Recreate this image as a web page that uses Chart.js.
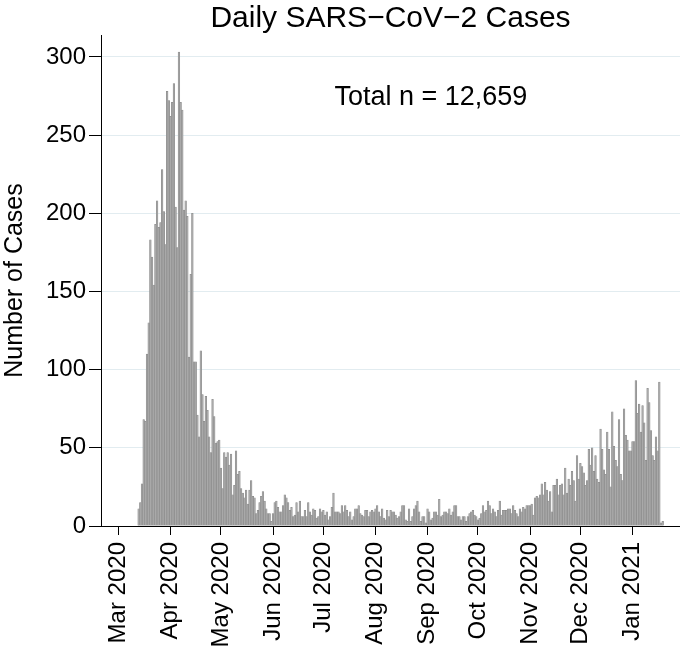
<!DOCTYPE html>
<html>
<head>
<meta charset="utf-8">
<title>Daily SARS-CoV-2 Cases</title>
<script src="https://cdn.jsdelivr.net/npm/chart.js@4.4.1/dist/chart.umd.min.js"></script>
<style>
  html, body { margin: 0; padding: 0; background: #fff; }
  #wrap { width: 680px; height: 651px; }
</style>
</head>
<body>
<div id="wrap"><canvas id="casesChart" width="680" height="651"></canvas></div>
<script>
// x values are days counted from 1 Mar 2020 (day 0)
const firstDay = 12; // 13 Mar 2020

// daily case counts, one per day from firstDay on
const dailyCases = [
  11, 15, 27, 68, 67, 110, 130, 183, 172, 154,   // 13-22 Mar
  193, 208, 191, 194, 228, 201, 180, 278, 272, 262,
  271, 283, 204, 178, 303, 271, 266, 202, 208, 198,
  108, 161, 200, 105, 105, 71, 57, 112, 84, 67,
  83, 74, 57, 47, 81, 70, 53, 54, 55, 37,         // -> 1 May
  24, 47, 44, 47, 39, 46, 20, 26, 48, 33,
  35, 24, 21, 18, 23, 14, 23, 29, 19, 18,
  8, 10, 15, 19, 22, 16, 11, 8, 8, 3,
  8, 15, 16, 12, 9, 9, 13, 20, 18, 15,            // from 1 Jun
  10, 12, 6, 7, 15, 9, 16, 6, 6, 10,
  6, 15, 9, 7, 11, 10, 5, 6, 11, 9,
  10, 7, 9, 4, 6, 12, 21, 9, 9, 9,                // from 1 Jul
  8, 13, 9, 13, 10, 6, 9, 4, 6, 11,
  11, 13, 8, 7, 6, 10, 10, 6, 9, 10,
  9, 11, 13, 9, 6, 11, 5, 4, 10, 6,
  10, 9, 9, 7, 5, 6, 9, 13, 13, 4,
  3, 11, 3, 6, 11, 13, 16, 9, 3, 6,
  6, 2, 11, 9, 4, 5, 9, 9, 7, 17,                 // from 31 Aug
  6, 7, 9, 9, 8, 11, 7, 9, 13, 13,
  6, 6, 4, 6, 6, 3, 6, 8, 9, 10,
  7, 6, 4, 5, 8, 13, 9, 10, 16, 13,               // from 30 Sep
  8, 11, 9, 6, 10, 16, 7, 10, 10, 10,
  11, 11, 8, 13, 10, 8, 6, 11, 9, 12,
  11, 13, 13, 13, 14, 7, 18, 19, 18, 20,          // from 30 Oct
  27, 20, 28, 23, 16, 22, 9, 26, 26, 30,
  20, 26, 27, 20, 37, 21, 30, 26, 35, 29,
  16, 45, 30, 40, 38, 34, 26, 29, 49, 39,         // from 29 Nov
  50, 35, 45, 30, 28, 62, 49, 36, 33, 60,
  49, 25, 73, 51, 42, 38, 68, 33, 29, 75,
  58, 55, 48, 48, 54, 54, 93, 72, 78, 60,         // from 29 Dec
  77, 66, 42, 88, 79, 61, 45, 42, 57, 48,
  92, 2, 3
];

// month starts, as days from 1 Mar 2020
const monthTicks = [0, 31, 61, 92, 122, 153, 184, 214, 245, 275, 306];
const monthLabels = ['Mar 2020', 'Apr 2020', 'May 2020', 'Jun 2020', 'Jul 2020', 'Aug 2020',
                     'Sep 2020', 'Oct 2020', 'Nov 2020', 'Dec 2020', 'Jan 2021'];
const yTicks = [0, 50, 100, 150, 200, 250, 300];

const FONT = '"Liberation Sans", Arial, Helvetica, sans-serif';
Chart.defaults.font.family = FONT;
Chart.defaults.color = '#000';

// title and "Total n" note
const textPlugin = {
  id: 'chartTexts',
  afterDraw(chart) {
    const { ctx, chartArea, scales } = chart;
    ctx.save();
    ctx.fillStyle = '#000';
    ctx.textAlign = 'center';
    ctx.textBaseline = 'alphabetic';
    ctx.font = '30px ' + FONT;
    ctx.fillText('Daily SARS\u2212CoV\u22122 Cases', (chartArea.left + chartArea.right) / 2, 27);
    ctx.font = '27px ' + FONT;
    ctx.textBaseline = 'middle';
    ctx.fillText('Total n = 12,659', scales.x.getPixelForValue(186), scales.y.getPixelForValue(274));
    ctx.restore();
  }
};

new Chart(document.getElementById('casesChart'), {
  type: 'bar',
  data: {
    datasets: [{
      data: dailyCases.map((v, i) => ({ x: firstDay + i, y: v })),
      backgroundColor: '#a9a9a9',
      borderColor: '#858585',
      borderWidth: 0.5,
      categoryPercentage: 1,
      barPercentage: 1
    }]
  },
  options: {
    responsive: false,
    animation: false,
    layout: { padding: { top: 35, right: 0, bottom: 0, left: 0 } },
    plugins: {
      legend: { display: false },
      tooltip: { enabled: false }
    },
    scales: {
      x: {
        type: 'linear',
        offset: false,
        min: -10.4,
        max: 334.3,
        afterBuildTicks: (s) => { s.ticks = monthTicks.map(v => ({ value: v })); },
        afterFit: (s) => { s.height = 125; },
        border: { display: true, color: '#000', width: 1 },
        grid: { offset: false, drawOnChartArea: false, drawTicks: true, tickLength: 9, tickColor: '#000', tickWidth: 1 },
        ticks: {
          autoSkip: false,
          minRotation: 90,
          maxRotation: 90,
          padding: 7,
          color: '#000',
          font: { size: 24 },
          callback: (v) => monthLabels[monthTicks.indexOf(v)]
        }
      },
      y: {
        min: 0,
        max: 314,
        afterBuildTicks: (s) => { s.ticks = yTicks.map(v => ({ value: v })); },
        afterFit: (s) => { s.width = 101; },
        border: { display: true, color: '#000', width: 1 },
        grid: {
          color: (c) => (c.tick && c.tick.value === 0) ? 'rgba(0,0,0,0)' : '#e2ecf0',
          lineWidth: 1,
          tickLength: 12,
          tickColor: '#000'
        },
        ticks: { padding: 3, color: '#000', font: { size: 24 } },
        title: {
          display: true,
          text: 'Number of Cases',
          color: '#000',
          font: { size: 25 },
          padding: { top: 0, bottom: 0 }
        }
      }
    }
  },
  plugins: [textPlugin]
});
</script>
</body>
</html>
